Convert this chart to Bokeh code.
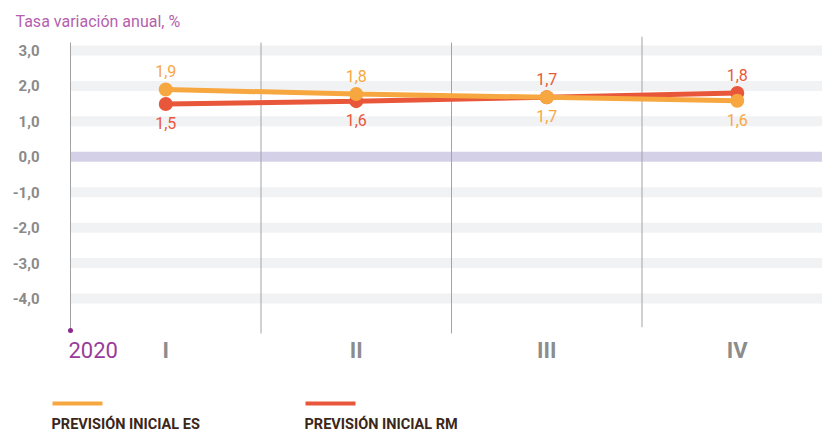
from bokeh.plotting import figure
from bokeh.models import Range1d, FixedTicker, ColumnDataSource, Title, Column
from bokeh.core.properties import value
from bokeh.embed import file_html
from bokeh.resources import INLINE

# ---- data ----
quarters = ["I", "II", "III", "IV"]
year_label = "2020"
series_names = ["PREVISIÓN INICIAL ES", "PREVISIÓN INICIAL RM"]
es_values = [1.90, 1.77, 1.68, 1.58]
rm_values = [1.49, 1.57, 1.68, 1.80]
y_ticks = [-4, -3, -2, -1, 0, 1, 2, 3]
y_tick_labels = ["-4,0", "-3,0", "-2,0", "-1,0", "0,0", "1,0", "2,0", "3,0"]
title_text = "Tasa variación anual, %"

ES_COLOR = "#f7a73f"
RM_COLOR = "#e9573a"
FONT = "Roboto"
PX_PER_Y = 35.43
PX_PER_X = 190.5
W = 822
LEFT = 64          # frame left edge (px); x=0 sits at 70 px

x_pos = [i + 0.5 for i in range(len(quarters))]
X_START = -(70 - LEFT) / PX_PER_X
X_END = X_START + (W - LEFT) / PX_PER_X

p = figure(width=W, height=362, output_backend="svg", toolbar_location=None,
           x_range=Range1d(X_START, X_END), y_range=Range1d(-5.806, 3.395),
           min_border_left=LEFT, min_border_right=0, min_border_top=36, min_border_bottom=0)
p.frame_align = False
p.outline_line_color = None
p.xgrid.visible = False
p.ygrid.visible = False
p.xaxis.visible = False

p.title = Title(text=title_text, align="left", offset=-(LEFT - 15), text_font_size="16px",
                text_color="#b45fae", text_font_style="normal", text_font=FONT, standoff=12)

# horizontal bands
band_h = 10 / PX_PER_Y
band_colors = ["#d3d0e7" if t == 0 else "#f1f2f4" for t in y_ticks]
p.hbar(y=y_ticks, left=0, right=10, height=band_h, color=band_colors, line_color=None)

# vertical dividers
div_x = list(range(len(quarters)))
div_top = [3.226, 3.226, 3.226, 3.395]
div_bot = [-4.90, -4.987, -4.987, -4.81]
p.segment(x0=div_x, y0=div_top, x1=div_x, y1=div_bot, line_color="#a3a3a3", line_width=1)
p.scatter(x=[0], y=[div_bot[0]], size=5, color="#8b2a8c", line_color=None)

# series
p.line(x=x_pos, y=rm_values, line_color=RM_COLOR, line_width=5)
p.scatter(x=x_pos, y=rm_values, size=14, color=RM_COLOR, line_color=None)
p.line(x=x_pos, y=es_values, line_color=ES_COLOR, line_width=5)
p.scatter(x=x_pos, y=es_values, size=14, color=ES_COLOR, line_color=None)

def fmt(v):
    return f"{v:.1f}".replace(".", ",")

es_off = [-18 if e > r else 19 for e, r in zip(es_values, rm_values)]
rm_off = [-18 if r >= e else 19 for e, r in zip(es_values, rm_values)]
src_es = ColumnDataSource(dict(x=x_pos, y=es_values, t=[fmt(v) for v in es_values], o=es_off))
src_rm = ColumnDataSource(dict(x=x_pos, y=rm_values, t=[fmt(v) for v in rm_values], o=rm_off))
for src, col in ((src_es, ES_COLOR), (src_rm, RM_COLOR)):
    p.text(x="x", y="y", text="t", y_offset="o", source=src, text_align="center",
           text_baseline="middle", text_font=value(FONT), text_font_size="16px",
           text_color=col)

# category row (quarters + year)
row_y = -5.459
p.text(x=x_pos, y=row_y, text=quarters, text_align="center", text_baseline="middle",
       text_font=value(FONT), text_font_size="22px", text_font_style="bold",
       text_color="#8c8c8c")
p.text(x=[0], y=row_y, text=[year_label], x_offset=-2, text_align="left",
       text_baseline="middle", text_font=value(FONT), text_font_size="22px",
       text_color="#9a3b9a")

# y axis
ya = p.yaxis[0]
ya.ticker = FixedTicker(ticks=y_ticks)
ya.major_label_overrides = {t: l for t, l in zip(y_ticks, y_tick_labels)}
ya.axis_line_color = None
ya.major_tick_line_color = None
ya.minor_tick_line_color = None
ya.major_label_standoff = LEFT - 45
ya.major_label_text_font = FONT
ya.major_label_text_font_style = "bold"
ya.major_label_text_font_size = "15px"
ya.major_label_text_color = "#8a8a8a"

# legend figure
LH = 74
lg = figure(width=W, height=LH, output_backend="svg", toolbar_location=None,
            x_range=Range1d(0, W), y_range=Range1d(LH, 0),
            min_border=0, min_border_left=0, min_border_right=0,
            min_border_top=0, min_border_bottom=0)
lg.frame_align = False
lg.axis.visible = False
lg.grid.visible = False
lg.outline_line_color = None
leg_x = [52, 305]
leg_colors = [ES_COLOR, RM_COLOR]
lg.rect(x=[lx + 25 for lx in leg_x], y=41, width=50, height=4, color=leg_colors, line_color=None)
lg.text(x=[lx - 1 for lx in leg_x], y=62, text=series_names, text_align="left",
        text_baseline="middle", text_font=value(FONT), text_font_size="14.5px",
        text_font_style="bold", text_color="#3b2719")

layout = Column(p, lg, spacing=0)
open("out.html", "w").write(file_html(layout, INLINE))
